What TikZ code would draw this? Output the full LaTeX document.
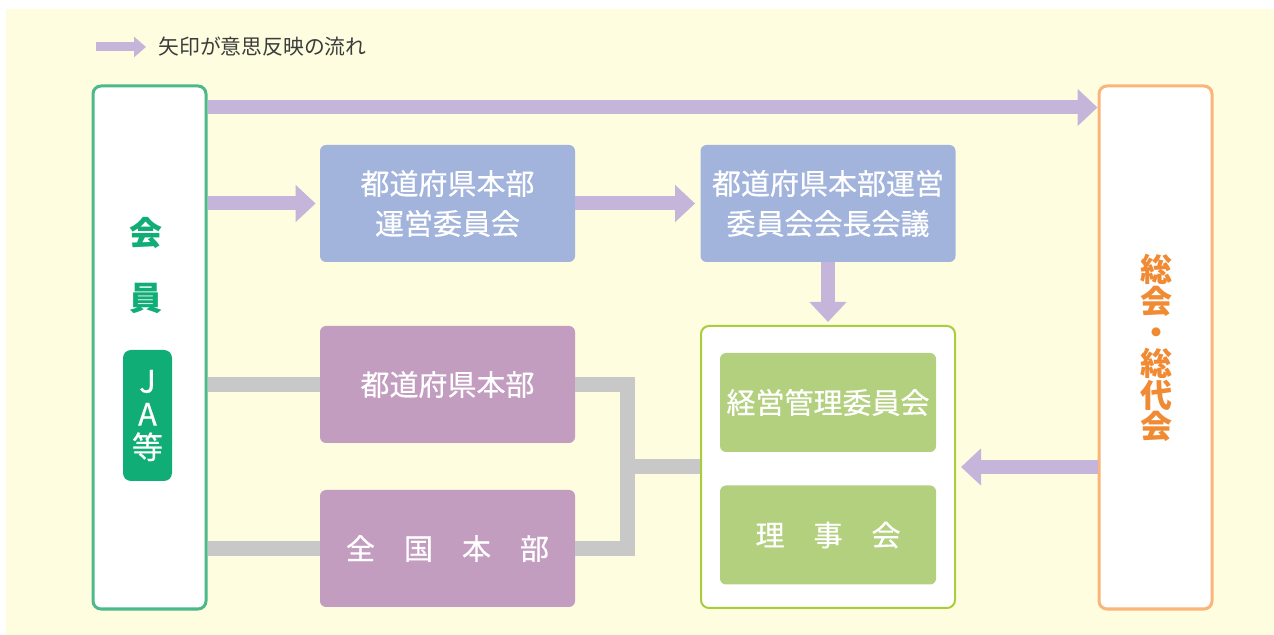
\documentclass[tikz,border=0pt]{standalone}
\usepackage{fontspec}
\setmainfont{Noto Sans CJK JP}
\newfontfamily\boxfont{Noto Sans CJK JP}[FakeBold=0.5]
\usepackage{xcolor}
\usetikzlibrary{arrows.meta}

\definecolor{bgyellow}{HTML}{FEFDE0}
\definecolor{flowcol}{HTML}{C5B5DA}
\definecolor{bluecol}{HTML}{A3B4DC}
\definecolor{purplecol}{HTML}{C39DC0}
\definecolor{leafcol}{HTML}{B3D07E}
\definecolor{limecol}{HTML}{A9CE3C}
\definecolor{membercol}{HTML}{4DB98A}
\definecolor{jacol}{HTML}{10AD77}
\definecolor{orangeline}{HTML}{F9B57A}
\definecolor{orangetext}{HTML}{F08A33}
\definecolor{linkcol}{HTML}{C8C8C8}
\definecolor{legendcol}{HTML}{3C3C3C}

\tikzset{
  box/.style={rounded corners=3pt, text=white, align=center, inner sep=0pt,
    font=\boxfont\fontsize{14.5}{20}\selectfont},
  bluebox/.style={box, fill=bluecol, minimum width=127.5pt, minimum height=58.5pt},
  purplebox/.style={box, fill=purplecol, minimum width=127.5pt, minimum height=58.5pt},
  leafbox/.style={box, fill=leafcol, minimum width=108pt, minimum height=49.5pt},
  tallbox/.style={rounded corners=4pt, fill=white, line width=1.5pt,
    minimum width=56.5pt, minimum height=261.5pt, inner sep=0pt},
  flow/.style={draw=flowcol, line width=7pt, -{Triangle[width=18pt,length=10pt]}},
  link/.style={draw=linkcol, line width=7.5pt, line join=miter}
}

\begin{document}
\begin{tikzpicture}[x=0.5pt, y=-0.5pt]
  \useasboundingbox (0,0) rectangle (1274,635);
  \fill[bgyellow] (6,9) rectangle (1274,635);

  \node[anchor=west, inner sep=0pt, text=legendcol, font=\fontsize{10.4}{12}\selectfont]
    (legend) at (158,47) {矢印が意思反映の流れ};
  \draw[draw=flowcol, line width=4.5pt, -{Triangle[width=10pt,length=6pt]}]
    ([xshift=-31pt]legend.west) -- ([xshift=-6pt]legend.west);

  \node[tallbox, draw=membercol] (member) at (149.5,347.5) {};
  \node[tallbox, draw=orangeline] (general) at (1155.5,347.5) {};

  \node[text=jacol, align=center, font=\fontsize{16.5}{32.5}\selectfont\bfseries]
    (membertext) at (146,265.5) {会\\員};
  \node[rounded corners=4pt, fill=jacol, minimum width=24.5pt, minimum height=65.5pt,
    text=white, align=center, inner sep=0pt, font=\boxfont\fontsize{15.5}{16.5}\selectfont]
    (ja) at (147.5,415.5) {J\\A\\等};
  \node[text=orangetext, align=center, font=\fontsize{16}{15.7}\selectfont\bfseries]
    (generaltext) at (1156,348) {総\\会\\・\\総\\代\\会};

  \node[bluebox] (council) at (447.5,203.5) {都道府県本部\\運営委員会};
  \node[bluebox] (chairs) at (828,203.5) {都道府県本部運営\\委員会会長会議};

  \node[purplebox] (prefhq) at (447.5,384.5) {都道府県本部};
  \node[purplebox] (nathq) at (447.5,548.5) {全　国　本　部};

  \node[rounded corners=4pt, fill=white, draw=limecol, line width=1pt,
    minimum width=127pt, minimum height=141pt, inner sep=0pt] (board) at (828,467) {};
  \node[leafbox] (mgmt) at (828,402.5) {経営管理委員会};
  \node[leafbox] (directors) at (828,535) {理　事　会};

  \draw[flow] ([yshift=-11.5pt]member.north east) -- ([yshift=-11.5pt]general.north west);
  \draw[flow, shorten >=2pt] (member.east |- council.west) -- (council.west);
  \draw[flow, shorten >=2.5pt] (council.east) -- (chairs.west);
  \draw[flow, shorten >=1.5pt] (chairs.south) -- (board.north);
  \draw[flow, shorten >=2.5pt] (general.west |- board.east) -- (board.east);

  \coordinate (bend) at ([xshift=26.25pt]prefhq.east);
  \draw[link] (member.east |- prefhq.west) -- (prefhq.west);
  \draw[link] (member.east |- nathq.west) -- (nathq.west);
  \draw[link] (prefhq.east) -- (bend) |- (nathq.east);
  \draw[link] (bend |- board.west) -- (board.west);
\end{tikzpicture}
\end{document}
